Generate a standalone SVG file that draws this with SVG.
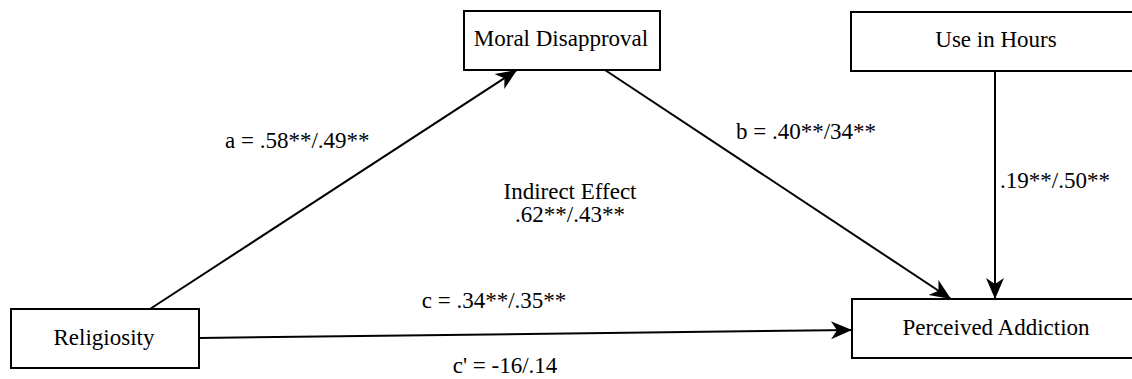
<svg xmlns="http://www.w3.org/2000/svg" width="1132" height="379" viewBox="0 0 1132 379">
<defs>
<style>
.box{fill:#fff;stroke:#000;stroke-width:2}
.t{font-family:"Liberation Serif","Times New Roman",serif;font-size:23px;fill:#000}
.m{text-anchor:middle}
.ln{stroke:#000;stroke-width:2;fill:none;marker-end:url(#ah)}
</style>
<marker id="ah" markerUnits="userSpaceOnUse" viewBox="-22 -10 24 20" refX="0" refY="0" markerWidth="24" markerHeight="20" orient="auto">
<path d="M0,0 L-21,-9 L-15,0 L-21,9 Z" fill="#000"/>
</marker>
</defs>
<rect width="1132" height="379" fill="#fff"/>
<g id="connectors">
<line class="ln" x1="150" y1="309" x2="517" y2="70"/>
<line class="ln" x1="605" y1="70" x2="951" y2="299"/>
<line class="ln" x1="995" y1="71" x2="995" y2="299"/>
<line class="ln" x1="199" y1="338" x2="852" y2="330"/>
</g>
<g id="religiosity">
<rect class="box" x="11" y="309" width="188" height="59"/>
<text class="t m" x="104" y="345">Religiosity</text>
</g>
<g id="moral-disapproval">
<rect class="box" x="464" y="11" width="196" height="59"/>
<text class="t m" x="561" y="46">Moral Disapproval</text>
</g>
<g id="use-in-hours">
<rect class="box" x="851" y="12" width="290" height="59"/>
<text class="t m" x="996" y="47">Use in Hours</text>
</g>
<g id="perceived-addiction">
<rect class="box" x="852" y="299" width="290" height="59"/>
<text class="t m" x="996" y="335">Perceived Addiction</text>
</g>
<g id="labels">
<text class="t" x="225" y="148">a = .58**/.49**</text>
<text class="t" x="736" y="139">b = .40**/34**</text>
<text class="t m" x="570" y="199">Indirect Effect</text>
<text class="t m" x="570" y="222">.62**/.43**</text>
<text class="t" x="1000" y="188">.19**/.50**</text>
<text class="t m" x="494" y="308">c = .34**/.35**</text>
<text class="t m" x="505" y="373">c' = -16/.14</text>
</g>
</svg>
